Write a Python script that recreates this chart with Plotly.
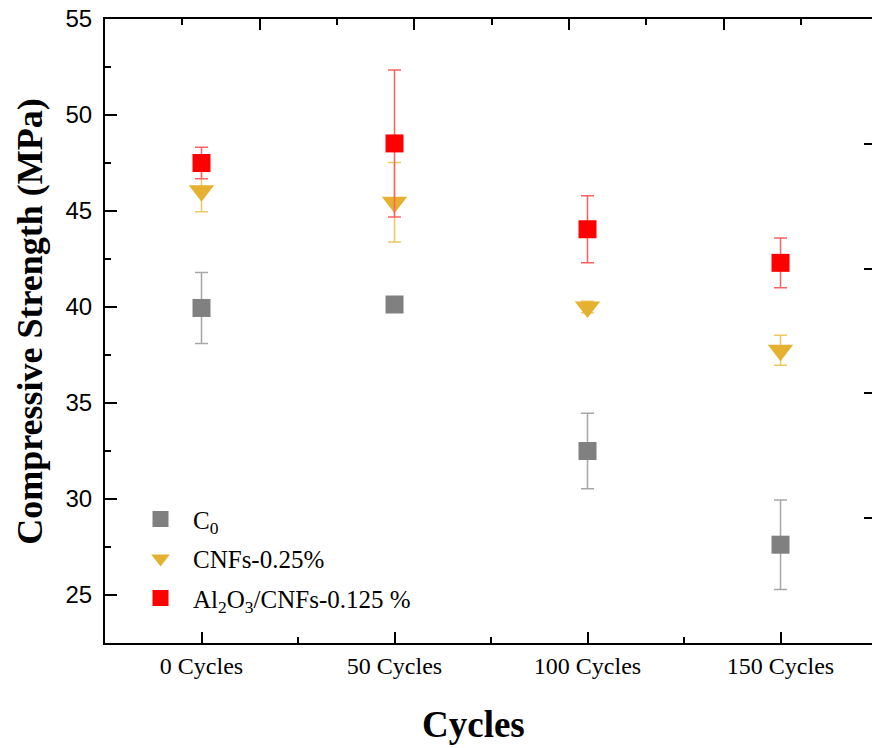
import plotly.graph_objects as go

# Freeze-thaw cycles and compressive strength (MPa), mean and standard deviation
cycles = ["0 Cycles", "50 Cycles", "100 Cycles", "150 Cycles"]

c0_mean = [39.95, 40.13, 32.5, 27.62]
c0_sd = [1.85, 0.3, 1.97, 2.33]

cnf_mean = [46.05, 45.45, 40.0, 37.75]
cnf_sd = [1.09, 2.07, 0.3, 0.78]

al_mean = [47.5, 48.52, 44.05, 42.3]
al_sd = [0.82, 3.83, 1.74, 1.3]

series = [
    dict(name="C<sub>0</sub>", mean=c0_mean, sd=c0_sd, symbol="square",
         color="#808080", err="#a6a6a6", size=18),
    dict(name="CNFs-0.25%", mean=cnf_mean, sd=cnf_sd, symbol="triangle-down",
         color="#E6B030", err="#F0C860", size=22),
    dict(name="Al<sub>2</sub>O<sub>3</sub>/CNFs-0.125 %", mean=al_mean, sd=al_sd,
         symbol="square", color="#FF0000", err="#FF6060", size=18),
]

xpos = list(range(len(cycles)))

fig = go.Figure()
for i, s in enumerate(series):
    fig.add_trace(go.Scatter(
        x=xpos, y=s["mean"], mode="markers", name=s["name"],
        legendgroup=str(i),
        marker=dict(symbol=s["symbol"], size=s["size"], color=s["color"],
                    line=dict(width=0)),
        error_y=dict(type="data", array=s["sd"], visible=True,
                     color=s["err"], thickness=1.5, width=6.5),
    ))

# empty trace so the top/right frame axes are created
fig.add_trace(go.Scatter(x=[], y=[], xaxis="x2", yaxis="y2",
                         showlegend=False, hoverinfo="skip"))

serif = "Liberation Serif, Times New Roman, serif"
sans = "Liberation Sans, Arial, sans-serif"

fig.update_layout(
    width=872, height=748,
    margin=dict(l=105, r=0, t=19, b=105),
    paper_bgcolor="white", plot_bgcolor="white",
    showlegend=True,
    legend=dict(x=0.03, y=0.235, xanchor="left", yanchor="top",
                font=dict(family=serif, size=25, color="black"),
                bgcolor="rgba(0,0,0,0)", traceorder="grouped",
                tracegroupgap=4, itemwidth=55),
    xaxis=dict(
        range=[-0.5, 3.474], tickmode="array", tickvals=xpos, ticktext=cycles,
        showline=True, linecolor="black", linewidth=2, mirror=False,
        ticks="inside", ticklen=11, tickwidth=2, tickcolor="black",
        minor=dict(tickmode="linear", tick0=0.5, dtick=1, ticks="inside",
                   ticklen=6, tickwidth=2, tickcolor="black"),
        tickfont=dict(family=serif, size=24, color="black"),
        showgrid=False, zeroline=False,
    ),
    yaxis=dict(
        range=[22.5, 55], dtick=5, tick0=25,
        showline=True, linecolor="black", linewidth=2, mirror=False,
        ticks="inside", ticklen=12, tickwidth=2, tickcolor="black",
        minor=dict(dtick=2.5, ticks="inside", ticklen=6, tickwidth=2, tickcolor="black"),
        tickfont=dict(family=sans, size=24, color="black"),
        ticklabelstandoff=6,
        showgrid=False, zeroline=False,
    ),
    xaxis2=dict(
        overlaying="x", side="top", anchor="y2", range=[0, 4.96], dtick=1, tick0=0,
        showline=True, linecolor="black", linewidth=2,
        ticks="inside", ticklen=11, tickwidth=2, tickcolor="black",
        minor=dict(dtick=0.5, tick0=0, ticks="inside", ticklen=6, tickwidth=2,
                   tickcolor="black"),
        showticklabels=False, showgrid=False, zeroline=False,
    ),
    yaxis2=dict(
        overlaying="y", side="right", anchor="x2", range=[0, 5], dtick=1, tick0=0,
        showline=False,
        ticks="inside", ticklen=8, tickwidth=2, tickcolor="black",
        showticklabels=False, showgrid=False, zeroline=False,
    ),
    annotations=[
        dict(text="<b>Cycles</b>", xref="paper", yref="paper", x=0.481, y=-0.131,
             xanchor="center", yanchor="middle", showarrow=False,
             font=dict(family=serif, size=37, color="black")),
        dict(text="<b>Compressive Strength (MPa)</b>", xref="paper", yref="paper",
             x=-0.098, y=0.516, xanchor="center", yanchor="middle", textangle=-90,
             showarrow=False, font=dict(family=serif, size=36, color="black")),
    ],
)

fig.write_html("out.html")
